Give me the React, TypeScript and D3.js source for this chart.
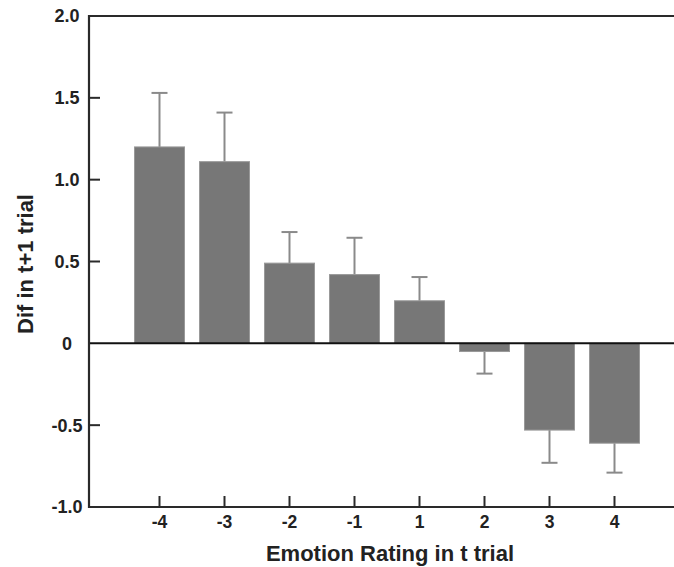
import React from "react";
import * as d3 from "d3";

const categories = ["-4", "-3", "-2", "-1", "1", "2", "3", "4"];
const means = [1.2, 1.11, 0.49, 0.42, 0.26, -0.05, -0.53, -0.61];
const errors = [0.33, 0.3, 0.19, 0.225, 0.145, 0.135, 0.2, 0.18];
const yTicks = [-1.0, -0.5, 0, 0.5, 1.0, 1.5, 2.0];
const yTickLabels = ["-1.0", "-0.5", "0", "0.5", "1.0", "1.5", "2.0"];

const W = 674;
const H = 567;
const axisX = 89;
const rightX = 674;
const topY = 16;
const bottomY = 507;

export default function App() {
  const y = d3.scaleLinear().domain([-1, 2]).range([bottomY, topY]);
  const x = d3.scalePoint<string>().domain(categories).range([159.5, 614.5]);
  const barW = 50;
  const capW = 16;
  const font = "'Liberation Sans', Arial, sans-serif";
  return (
    <svg width={W} height={H} style={{ position: "absolute", left: 0, top: 0 }} fontFamily={font}>
      <rect width={W} height={H} fill="#fff" />
      {/* error bars */}
      {categories.map((c, i) => {
        const cx = x(c)!;
        const v = means[i];
        const e = v >= 0 ? v + errors[i] : v - errors[i];
        return (
          <g key={"e" + c} stroke="#8a8a8a" strokeWidth={2}>
            <line x1={cx} x2={cx} y1={y(v)} y2={y(e)} />
            <line x1={cx - capW / 2} x2={cx + capW / 2} y1={y(e)} y2={y(e)} />
          </g>
        );
      })}
      {/* bars */}
      {categories.map((c, i) => {
        const cx = x(c)!;
        const v = means[i];
        const y0 = y(Math.max(0, v));
        const y1 = y(Math.min(0, v));
        return (
          <rect key={"b" + c} x={cx - barW / 2} y={y0} width={barW} height={y1 - y0}
            fill="#777777" stroke="#999999" strokeWidth={1} />
        );
      })}
      {/* zero line */}
      <line x1={axisX} x2={rightX} y1={y(0)} y2={y(0)} stroke="#111" strokeWidth={2} />
      {/* axes frame */}
      <line x1={axisX} x2={rightX} y1={topY} y2={topY} stroke="#2a2a2a" strokeWidth={2.2} />
      <line x1={axisX} x2={rightX} y1={bottomY} y2={bottomY} stroke="#2a2a2a" strokeWidth={2.2} />
      <line x1={axisX} x2={axisX} y1={topY - 1} y2={bottomY + 1} stroke="#2a2a2a" strokeWidth={2.2} />
      {/* y ticks */}
      {yTicks.map((t, i) => (
        <g key={"yt" + i}>
          {t !== 0 && t !== 2 && t !== -1 && (
            <line x1={axisX} x2={axisX + 11} y1={y(t)} y2={y(t)} stroke="#2a2a2a" strokeWidth={2} />
          )}
          <text x={67} y={y(t)} dy="0.36em" textAnchor="middle" fontSize={18} fontWeight="bold" fill="#222">
            {yTickLabels[i]}
          </text>
        </g>
      ))}
      {/* x ticks */}
      {categories.map((c) => (
        <g key={"xt" + c}>
          <line x1={x(c)!} x2={x(c)!} y1={bottomY} y2={bottomY - 11} stroke="#2a2a2a" strokeWidth={2} />
          <text x={x(c)!} y={528} textAnchor="middle" fontSize={17.5} fontWeight="bold" fill="#222">
            {c}
          </text>
        </g>
      ))}
      <text x={390} y={561} textAnchor="middle" fontSize={22} fontWeight="bold" fill="#222">
        Emotion Rating in t trial
      </text>
      <text transform={`translate(33,264) rotate(-90)`} textAnchor="middle" fontSize={22} fontWeight="bold" fill="#222">
        Dif in t+1 trial
      </text>
    </svg>
  );
}
